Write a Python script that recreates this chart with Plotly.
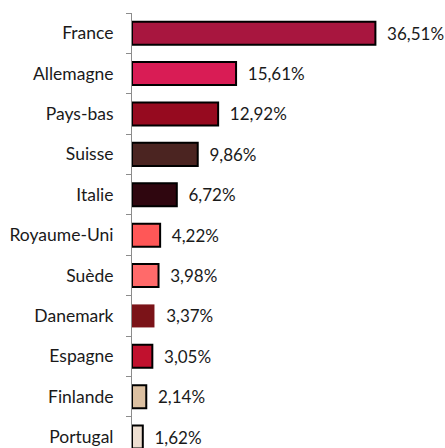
import plotly.graph_objects as go

countries = ["France", "Allemagne", "Pays-bas", "Suisse", "Italie", "Royaume-Uni",
             "Suède", "Danemark", "Espagne", "Finlande", "Portugal"]
shares = [36.51, 15.61, 12.92, 9.86, 6.72, 4.22, 3.98, 3.37, 3.05, 2.14, 1.62]
colors = ["#A8163F", "#D91C55", "#960A1F", "#4B2421", "#2F060F", "#FF5757",
          "#FF6A6A", "#7B1318", "#C1112E", "#DCC0A1", "#EEDFD1"]
border_widths = [2, 2, 2, 2, 2, 2, 2, 0, 2, 2, 2]

labels = ["\u00a0\u00a0" + f"{v:.2f}".replace(".", ",") + "%" for v in shares]

fig = go.Figure(go.Bar(
    x=shares, y=countries, orientation="h",
    marker=dict(color=colors, line=dict(color="#000000", width=border_widths)),
    text=labels, textposition="outside", cliponaxis=False, constraintext="none",
    textfont=dict(family="Lato", size=17, color="#1a1a1a"),
    width=0.57,
))

fig.update_layout(
    width=445, height=448,
    margin=dict(l=132, r=13, t=13, b=0),
    paper_bgcolor="white", plot_bgcolor="white",
    font=dict(family="Lato", size=17.5, color="#1a1a1a"),
    showlegend=False,
    xaxis=dict(range=[0, 45], visible=False),
    yaxis=dict(type="category", range=[10.27, -0.5], tickson="boundaries",
               ticks="outside", ticklen=5, tickcolor="#8c8c8c",
               showline=True, linecolor="#8c8c8c", linewidth=1,
               showgrid=False, ticklabelstandoff=14, automargin=False),
)

fig.write_html("out.html",
               config={"displayModeBar": False},
               post_script="document.body.style.margin='0';document.body.style.overflow='hidden';")
